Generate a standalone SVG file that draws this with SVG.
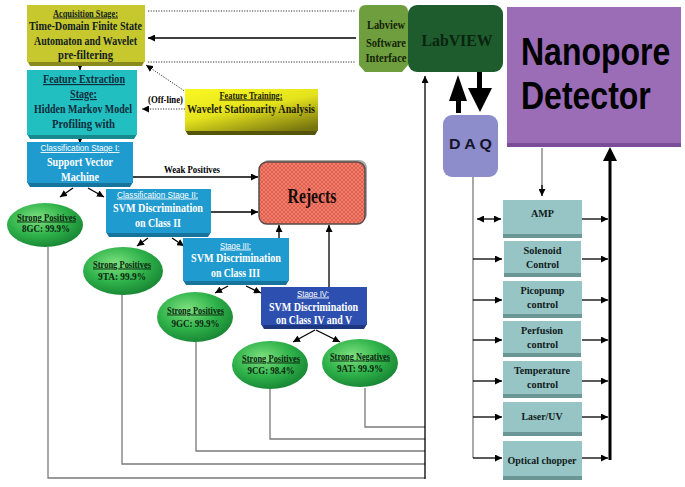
<svg xmlns="http://www.w3.org/2000/svg" width="685" height="487" viewBox="0 0 685 487">
<defs>
<style>
.t{font-family:"Liberation Serif","Times New Roman",serif;font-weight:bold;text-anchor:middle}
.s{font-family:"Liberation Sans",Arial,sans-serif;text-anchor:middle}
.u{text-decoration:underline}
.w{fill:#ffffff}
.dk{fill:#101c20}
.og{fill:#0c2410}
.ln{fill:none;stroke:#000;stroke-width:1.3}
.gl{fill:none;stroke:#7a7a7a;stroke-width:1.3}
.dt{fill:none;stroke:#333;stroke-width:1;stroke-dasharray:1.2,1.4}
.rb{fill:#97c4c4}
.rbs{fill:#6a9696}
</style>
<marker id="ah" viewBox="0 0 10 10" refX="10" refY="5" markerWidth="7" markerHeight="7" markerUnits="userSpaceOnUse" orient="auto-start-reverse">
<path d="M0,0 L10,5 L0,10 z" fill="#000"/>
</marker>
<radialGradient id="gg" cx="0.4" cy="0.35" r="0.7">
<stop offset="0" stop-color="#7fe27f"/>
<stop offset="0.55" stop-color="#2fb24a"/>
<stop offset="1" stop-color="#168232"/>
</radialGradient>
<linearGradient id="yg" x1="0.2" y1="0" x2="0.85" y2="1">
<stop offset="0" stop-color="#f6f521"/>
<stop offset="0.45" stop-color="#e4e21c"/>
<stop offset="1" stop-color="#76740f"/>
</linearGradient>
<pattern id="hp" width="4" height="4" patternUnits="userSpaceOnUse">
<rect width="4" height="4" fill="#f47d6b"/>
<path d="M0,0 L4,4 M4,0 L0,4" stroke="#c94e3e" stroke-width="0.6"/>
</pattern>
</defs>

<g id="connectors">
<path class="dt" d="M148,11 H356"/>
<path class="dt" d="M148,62 H356"/>
<path class="ln" d="M356,38 H148" marker-end="url(#ah)"/>
<path class="ln" d="M80,64 V70" marker-end="url(#ah)"/>
<path class="ln" d="M80,138 V143" marker-end="url(#ah)"/>
<path class="dt" d="M186,92 L146,65" marker-end="url(#ah)"/>
<path class="dt" d="M185,109 H142" marker-end="url(#ah)"/>
<text class="t" x="165.5" y="102.5" font-size="9.5" textLength="35" lengthAdjust="spacingAndGlyphs">(Off-line)</text>
<path class="ln" d="M133,177 H258" marker-end="url(#ah)"/>
<text class="t" x="192" y="172.5" font-size="9.5" textLength="56" lengthAdjust="spacingAndGlyphs">Weak Positives</text>
<path class="ln" d="M211,212 H258" marker-end="url(#ah)"/>
<path class="ln" d="M279,238 V225" marker-end="url(#ah)"/>
<path class="ln" d="M329,287 V225" marker-end="url(#ah)"/>
<path class="ln" d="M73,188 L60,197" marker-end="url(#ah)"/>
<path class="ln" d="M88,188 L104,197" marker-end="url(#ah)"/>
<path class="ln" d="M148,238 L137,246" marker-end="url(#ah)"/>
<path class="ln" d="M172,238 L184,246" marker-end="url(#ah)"/>
<path class="ln" d="M228,286 L215,293" marker-end="url(#ah)"/>
<path class="ln" d="M246,286 L261,293" marker-end="url(#ah)"/>
<path class="ln" d="M315,330 L293,342" marker-end="url(#ah)"/>
<path class="ln" d="M316,330 L340,342" marker-end="url(#ah)"/>
<path class="gl" d="M48,247 V478 H425"/>
<path class="gl" d="M122,295 V464 H425"/>
<path class="gl" d="M196,342 V451 H425"/>
<path class="gl" d="M270,389 V439 H425"/>
<path class="gl" d="M365,388 V427 H425"/>
<path class="ln" d="M425,479 V76" stroke-width="2" marker-end="url(#ah)"/>
<polygon points="449,101 458,75 467,101 461,101 461,113 456,113 456,101" fill="#000"/>
<polygon points="477,72 482,72 482,88 492,88 480,112 468,88 477,88" fill="#000"/>
<path class="gl" d="M542,148 V189"/>
<path class="ln" d="M542,185 V196" marker-end="url(#ah)"/>
<path class="gl" d="M473,177 V458"/>
<path class="ln" d="M477,219 H501" marker-start="url(#ah)" marker-end="url(#ah)"/>
<path class="ln" d="M473,259 H502" marker-end="url(#ah)"/>
<path class="ln" d="M473,300 H502" marker-end="url(#ah)"/>
<path class="ln" d="M473,340 H502" marker-end="url(#ah)"/>
<path class="ln" d="M473,381 H502" marker-end="url(#ah)"/>
<path class="ln" d="M473,417 H502" marker-end="url(#ah)"/>
<path class="ln" d="M473,458 H502" marker-end="url(#ah)"/>
<path class="ln" d="M582,219 H608" stroke="#555" marker-end="url(#ah)"/>
<path class="ln" d="M582,259 H608" marker-end="url(#ah)"/>
<path class="ln" d="M582,300 H608" marker-end="url(#ah)"/>
<path class="ln" d="M582,340 H608" marker-end="url(#ah)"/>
<path class="ln" d="M582,381 H608" marker-end="url(#ah)"/>
<path class="ln" d="M582,417 H608" marker-end="url(#ah)"/>
<path class="ln" d="M582,458 H608" marker-end="url(#ah)"/>
<path d="M610,460 V158" stroke="#000" stroke-width="3" fill="none"/>
<polygon points="603,161 610,147 617,161" fill="#000"/>
</g>

<g id="acq">
<polygon points="27,60 145,60 142,66 30,66" fill="#8a8a1c"/>
<rect x="27" y="5" width="118" height="57" fill="#c7c72e"/>
<text class="t dk u" x="85.5" y="16.5" font-size="9.5" textLength="65" lengthAdjust="spacingAndGlyphs">Acquisition Stage:</text>
<text class="t dk" x="85.5" y="30" font-size="12" textLength="113" lengthAdjust="spacingAndGlyphs">Time-Domain Finite State</text>
<text class="t dk" x="85.5" y="44.5" font-size="12" textLength="103" lengthAdjust="spacingAndGlyphs">Automaton and Wavelet</text>
<text class="t dk" x="85.5" y="59" font-size="12" textLength="55" lengthAdjust="spacingAndGlyphs">pre-filtering</text>
</g>

<g id="feat">
<polygon points="27,134 137,134 134,139 30,139" fill="#168a8c"/>
<rect x="27" y="70" width="110" height="65" fill="#22bfc0"/>
<text class="t u" fill="#0f2c3c" x="84" y="83" font-size="11.5" textLength="82" lengthAdjust="spacingAndGlyphs">Feature Extraction</text>
<text class="t u" fill="#0f2c3c" x="83.5" y="98" font-size="11.5" textLength="27" lengthAdjust="spacingAndGlyphs">Stage:</text>
<text class="t" fill="#0f2c3c" x="83" y="112.5" font-size="11.5" textLength="98" lengthAdjust="spacingAndGlyphs">Hidden Markov Model</text>
<text class="t" fill="#0f2c3c" x="83.5" y="127.5" font-size="11.5" textLength="63" lengthAdjust="spacingAndGlyphs">Profiling with</text>
</g>

<g id="train">
<polygon points="185,130 318,130 315,135 188,135" fill="#55540a"/>
<rect x="185" y="89" width="133" height="42" fill="url(#yg)"/>
<text class="t u" fill="#1a1a08" x="251" y="98.5" font-size="10" textLength="63" lengthAdjust="spacingAndGlyphs">Feature Training:</text>
<text class="t" fill="#1a1a08" x="251" y="113" font-size="12" textLength="128" lengthAdjust="spacingAndGlyphs">Wavelet Stationarity Analysis</text>
</g>

<g id="cls1">
<polygon points="27,182 133,182 130,187 30,187" fill="#16739c"/>
<rect x="27" y="142" width="106" height="41" fill="#1f9bcf"/>
<text class="s w u" x="80" y="151" font-size="9" textLength="79" lengthAdjust="spacingAndGlyphs">Classification Stage I:</text>
<text class="t w" x="80" y="166" font-size="12" textLength="66" lengthAdjust="spacingAndGlyphs">Support Vector</text>
<text class="t w" x="80" y="180.5" font-size="12" textLength="38" lengthAdjust="spacingAndGlyphs">Machine</text>
</g>

<g id="cls2">
<polygon points="106,232 211,232 208,237 109,237" fill="#16739c"/>
<rect x="106" y="189" width="105" height="44" fill="#1f9bcf"/>
<text class="s w u" x="157.5" y="197.5" font-size="9" textLength="81" lengthAdjust="spacingAndGlyphs">Classification Stage II:</text>
<text class="t w" x="158" y="212" font-size="12" textLength="90" lengthAdjust="spacingAndGlyphs">SVM Discrimination</text>
<text class="t w" x="158" y="226.5" font-size="12" textLength="46" lengthAdjust="spacingAndGlyphs">on Class II</text>
</g>

<g id="cls3">
<polygon points="183,280 289,280 286,285 186,285" fill="#16739c"/>
<rect x="183" y="238" width="106" height="43" fill="#1f9bcf"/>
<text class="s w u" x="235.5" y="248.5" font-size="9" textLength="31" lengthAdjust="spacingAndGlyphs">Stage III:</text>
<text class="t w" x="236" y="262" font-size="12" textLength="90" lengthAdjust="spacingAndGlyphs">SVM Discrimination</text>
<text class="t w" x="235.5" y="276.5" font-size="12" textLength="49" lengthAdjust="spacingAndGlyphs">on Class III</text>
</g>

<g id="cls4">
<polygon points="261,324 367,324 364,329 264,329" fill="#1c3680"/>
<rect x="261" y="287" width="106" height="38" fill="#2d50b0"/>
<text class="s w u" x="313" y="296.5" font-size="9" textLength="32" lengthAdjust="spacingAndGlyphs">Stage IV:</text>
<text class="t w" x="313.5" y="310.5" font-size="12" textLength="89" lengthAdjust="spacingAndGlyphs">SVM Discrimination</text>
<text class="t w" x="314" y="324" font-size="12" textLength="76" lengthAdjust="spacingAndGlyphs">on Class IV and V</text>
</g>

<g id="rejects">
<rect x="261" y="160" width="106" height="62" rx="8" fill="#a8a8a8"/>
<rect x="259" y="162" width="106" height="62" rx="8" fill="url(#hp)" stroke="#5a4a48" stroke-width="1.5"/>
<text class="t" fill="#1a0a08" x="312" y="202.5" font-size="20" textLength="49" lengthAdjust="spacingAndGlyphs">Rejects</text>
</g>

<g id="o8gc">
<ellipse cx="45" cy="225" rx="38" ry="22" fill="url(#gg)"/>
<text class="t og u" x="46.5" y="220.5" font-size="9.5" textLength="59" lengthAdjust="spacingAndGlyphs">Strong Positives</text>
<text class="t og" x="46" y="232" font-size="10.5" textLength="48" lengthAdjust="spacingAndGlyphs">8GC: 99.9%</text>
</g>

<g id="o9ta">
<ellipse cx="123" cy="271" rx="40" ry="24" fill="url(#gg)"/>
<text class="t og u" x="122" y="267.5" font-size="9.5" textLength="58" lengthAdjust="spacingAndGlyphs">Strong Positives</text>
<text class="t og" x="122" y="280" font-size="10.5" textLength="48" lengthAdjust="spacingAndGlyphs">9TA: 99.9%</text>
</g>

<g id="o9gc">
<ellipse cx="195" cy="317" rx="38" ry="25" fill="url(#gg)"/>
<text class="t og u" x="195.5" y="313.5" font-size="9.5" textLength="57" lengthAdjust="spacingAndGlyphs">Strong Positives</text>
<text class="t og" x="195.5" y="326.5" font-size="10.5" textLength="48" lengthAdjust="spacingAndGlyphs">9GC: 99.9%</text>
</g>

<g id="o9cg">
<ellipse cx="270" cy="365" rx="38" ry="24" fill="url(#gg)"/>
<text class="t og u" x="271" y="361.5" font-size="9.5" textLength="58" lengthAdjust="spacingAndGlyphs">Strong Positives</text>
<text class="t og" x="271" y="374" font-size="10.5" textLength="47" lengthAdjust="spacingAndGlyphs">9CG: 98.4%</text>
</g>

<g id="o9at">
<ellipse cx="360" cy="363" rx="38" ry="24" fill="url(#gg)"/>
<text class="t og u" x="360" y="359.5" font-size="9.5" textLength="60" lengthAdjust="spacingAndGlyphs">Strong Negatives</text>
<text class="t og" x="360" y="372" font-size="10.5" textLength="46" lengthAdjust="spacingAndGlyphs">9AT: 99.9%</text>
</g>

<g id="lvsw">
<path d="M359,12 Q359,5 366,5 H401 Q408,5 408,12 V65 L402,72 H365 L359,65 Z" fill="#6e9e3e"/>
<text class="t" fill="#152208" x="386" y="29" font-size="11.5" textLength="38" lengthAdjust="spacingAndGlyphs">Labview</text>
<text class="t" fill="#152208" x="386" y="47" font-size="11.5" textLength="40" lengthAdjust="spacingAndGlyphs">Software</text>
<text class="t" fill="#152208" x="386" y="62" font-size="11.5" textLength="41" lengthAdjust="spacingAndGlyphs">Interface</text>
</g>

<g id="labview">
<rect x="408" y="5" width="95" height="67" rx="9" fill="#1e5b2d"/>
<text class="t" fill="#0a2410" x="457" y="46" font-size="17" textLength="71" lengthAdjust="spacingAndGlyphs">LabVIEW</text>
</g>

<g id="daq">
<rect x="443" y="115" width="55" height="62" rx="9" fill="#8d8dcb"/>
<text class="s" fill="#14142c" font-weight="bold" x="470.5" y="149" font-size="15" textLength="43" lengthAdjust="spacingAndGlyphs">D A Q</text>
</g>

<g id="nanopore">
<rect x="507" y="11" width="174" height="136" fill="#7a4d98"/>
<rect x="507" y="7" width="174" height="136" fill="#9b6db7"/>
<text fill="#000" font-family="'Liberation Sans', Arial, sans-serif" font-weight="bold" font-size="32" transform="translate(521,65) scale(1,1.22)">Nanopore</text>
<text fill="#000" font-family="'Liberation Sans', Arial, sans-serif" font-weight="bold" font-size="32" transform="translate(521,108.5) scale(1,1.22)">Detector</text>
</g>

<g id="amp">
<rect class="rbs" x="503" y="200" width="79" height="38"/>
<rect class="rb" x="503" y="200" width="79" height="34"/>
<text class="t dk" x="542.5" y="217" font-size="11" textLength="23" lengthAdjust="spacingAndGlyphs">AMP</text>
</g>

<g id="solenoid">
<rect class="rbs" x="504" y="241" width="77" height="36"/>
<rect class="rb" x="504" y="241" width="77" height="32"/>
<text class="t dk" x="542.5" y="254" font-size="11" textLength="38" lengthAdjust="spacingAndGlyphs">Solenoid</text>
<text class="t dk" x="542.5" y="268" font-size="11" textLength="33" lengthAdjust="spacingAndGlyphs">Control</text>
</g>

<g id="picopump">
<rect class="rbs" x="503" y="281" width="79" height="37"/>
<rect class="rb" x="503" y="281" width="79" height="33"/>
<text class="t dk" x="542.5" y="293.5" font-size="11" textLength="44" lengthAdjust="spacingAndGlyphs">Picopump</text>
<text class="t dk" x="542.5" y="308" font-size="11" textLength="31" lengthAdjust="spacingAndGlyphs">control</text>
</g>

<g id="perfusion">
<rect class="rbs" x="503" y="321" width="78" height="36"/>
<rect class="rb" x="503" y="321" width="78" height="32"/>
<text class="t dk" x="542" y="333.5" font-size="11" textLength="42" lengthAdjust="spacingAndGlyphs">Perfusion</text>
<text class="t dk" x="542.5" y="348" font-size="11" textLength="31" lengthAdjust="spacingAndGlyphs">control</text>
</g>

<g id="temperature">
<rect class="rbs" x="503" y="361" width="79" height="37"/>
<rect class="rb" x="503" y="361" width="79" height="33"/>
<text class="t dk" x="542" y="374" font-size="11" textLength="56" lengthAdjust="spacingAndGlyphs">Temperature</text>
<text class="t dk" x="542.5" y="388" font-size="11" textLength="31" lengthAdjust="spacingAndGlyphs">control</text>
</g>

<g id="laser">
<rect class="rbs" x="503" y="402" width="79" height="34"/>
<rect class="rb" x="503" y="402" width="79" height="30"/>
<text class="t dk" x="542" y="420" font-size="11" textLength="41" lengthAdjust="spacingAndGlyphs">Laser/UV</text>
</g>

<g id="chopper">
<rect class="rbs" x="503" y="441" width="79" height="39"/>
<rect class="rb" x="503" y="441" width="79" height="35"/>
<text class="t dk" x="542" y="464" font-size="11" textLength="69" lengthAdjust="spacingAndGlyphs">Optical chopper</text>
</g>
</svg>
